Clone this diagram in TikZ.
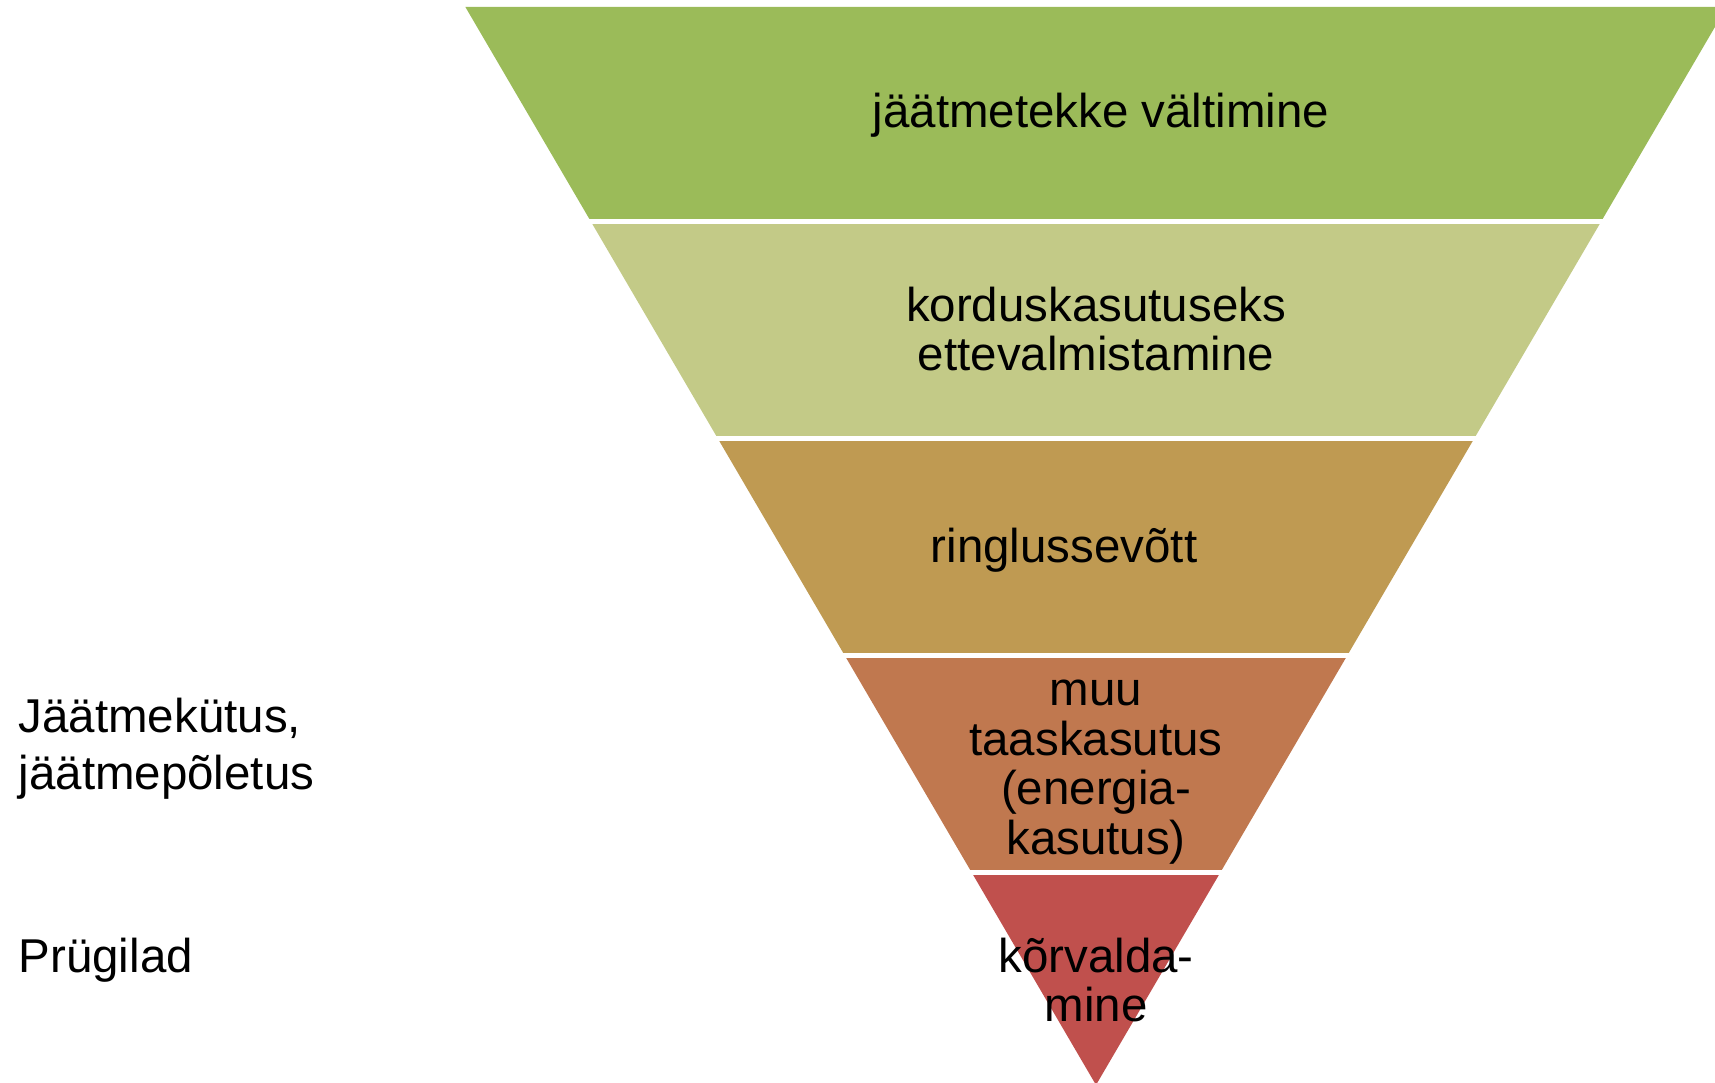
\documentclass[tikz,border=0pt]{standalone}
\usepackage{fontspec}
\setmainfont{Liberation Sans}
\usetikzlibrary{calc}
\definecolor{bandA}{HTML}{9BBB59}
\definecolor{bandB}{HTML}{C3CA87}
\definecolor{bandC}{HTML}{BF9A52}
\definecolor{bandD}{HTML}{C0784F}
\definecolor{bandE}{HTML}{C0504D}

\begin{document}
\begin{tikzpicture}[x=0.01cm,y=-0.01cm,
	lbl/.style={inner sep=0pt,align=center,font=\fontsize{13.5}{14.1}\selectfont},
	side/.style={inner sep=0pt,align=left,anchor=west,font=\fontsize{13.5}{16.2}\selectfont}]
	\useasboundingbox (0,0) rectangle (1715,1083);
	\clip (0,0) rectangle (1715,1083);
%
	\foreach \c/\ya/\yb in {bandA/7/221.5,bandB/221.5/438.3,bandC/438.3/655.3,bandD/655.3/872.3,bandE/872.3/1085} {
		\fill[\c] ({1096-0.585*(1085-\ya)},\ya) -- ({1096+0.585*(1085-\ya)},\ya)
			-- ({1096+0.585*(1085-\yb)},\yb) -- ({1096-0.585*(1085-\yb)},\yb) -- cycle;
	}
	\foreach \y in {221.5,438.3,655.3,872.3}
		\draw[white,line width=0.05cm] (400,\y) -- (1715,\y);
%
	\node[lbl] (avoid) at (1101,115) {jäätmetekke vältimine};
	\node[lbl] (reuse) at (1096,329) {korduskasutuseks\\ettevalmistamine};
	\node[lbl] (recyc) at (1064,550) {ringlussevõtt};
	\node[lbl] (recov) at (1096,772) {muu\\taaskasutus\\(energia-\\kasutus)};
	\node[lbl] (disp) at (1096,980) {kõrvalda-\\mine};
%
	\node[side] (burn) at (18,749) {Jäätmekütus,\\jäätmepõletus};
	\node[side] (land) at (18,960) {Prügilad};
\end{tikzpicture}
\end{document}
